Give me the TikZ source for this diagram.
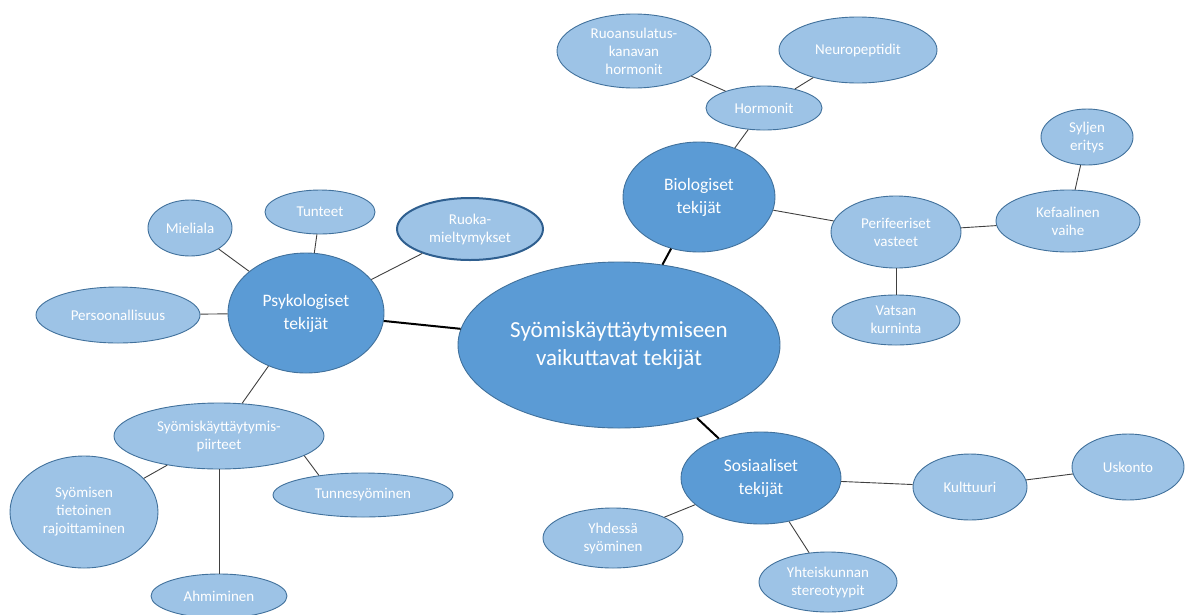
\documentclass[tikz,border=0pt]{standalone}
\usepackage{fontspec}
\setmainfont{Carlito}
\usetikzlibrary{shapes.geometric}
\definecolor{darkfill}{HTML}{5B9BD5}
\definecolor{lightfill}{HTML}{9DC3E6}
\definecolor{edgeblue}{HTML}{41719C}
\definecolor{strongedge}{HTML}{2F5F8F}
\definecolor{thinline}{HTML}{404040}
\tikzset{
  bubble/.style={ellipse, inner sep=0pt, align=center, text=white, draw=edgeblue, line width=0.9pt},
  mainbubble/.style={bubble, fill=darkfill, font=\fontsize{23}{28}\selectfont},
  catbubble/.style={bubble, fill=darkfill, font=\fontsize{17.5}{23}\selectfont},
  leafbubble/.style={bubble, fill=lightfill, font=\fontsize{15}{18}\selectfont},
  sz/.style 2 args={minimum width=#1pt, minimum height=#2pt},
  thinlink/.style={draw=thinline, line width=0.9pt},
  thicklink/.style={draw=black, line width=2pt}
}
\begin{document}
\begin{tikzpicture}[x=1pt,y=-1pt]
\useasboundingbox (0,0) rectangle (1186,614);
% main
\node[mainbubble, sz={322}{166}] (main) at (619,345) {Syömiskäyttäytymiseen\\vaikuttavat tekijät};
% categories
\node[catbubble, sz={156}{120}] (psyk) at (306,313) {Psykologiset\\tekijät};
\node[catbubble, sz={152}{110}] (bio) at (699,197) {Biologiset\\tekijät};
\node[catbubble, sz={160}{92}] (sos) at (761,478) {Sosiaaliset\\tekijät};
% psychological leaves
\node[leafbubble, sz={84}{56}] (mieli) at (190,228) {Mieliala};
\node[leafbubble, sz={110}{44}] (tunteet) at (320,212) {Tunteet};
\node[leafbubble, sz={146}{62}, draw=strongedge, line width=2pt] (ruoka) at (470,229) {Ruoka-\\mieltymykset};
\node[leafbubble, sz={164}{56}] (pers) at (118,315) {Persoonallisuus};
\node[leafbubble, sz={210}{66}] (piirt) at (219,436) {Syömiskäyttäytymis-\\piirteet};
\node[leafbubble, sz={148}{112}] (rajoit) at (84,512) {Syömisen\\tietoinen\\rajoittaminen};
\node[leafbubble, sz={180}{44}] (tunnes) at (363,495) {Tunnesyöminen};
\node[leafbubble, sz={136}{44}] (ahmi) at (219,596) {Ahmiminen};
% biological leaves
\node[leafbubble, sz={154}{74}] (ruoans) at (634,51) {Ruoansulatus-\\kanavan\\hormonit};
\node[leafbubble, sz={158}{66}] (neuro) at (858,50) {Neuropeptidit};
\node[leafbubble, sz={116}{44}] (horm) at (764,108) {Hormonit};
\node[leafbubble, sz={130}{72}] (perif) at (896,232) {Perifeeriset\\vasteet};
\node[leafbubble, sz={144}{62}] (kefa) at (1068,221) {Kefaalinen\\vaihe};
\node[leafbubble, sz={92}{56}] (sylj) at (1087,137) {Syljen\\eritys};
\node[leafbubble, sz={128}{50}] (vatsa) at (896,320) {Vatsan\\kurninta};
% social leaves
\node[leafbubble, sz={114}{66}] (kult) at (970,487) {Kulttuuri};
\node[leafbubble, sz={112}{66}] (usk) at (1128,467) {Uskonto};
\node[leafbubble, sz={140}{60}] (yhdes) at (613,538) {Yhdessä\\syöminen};
\node[leafbubble, sz={138}{60}] (yhteis) at (828,582) {Yhteiskunnan\\stereotyypit};
% connectors
\draw[thicklink] (main) -- (psyk);
\draw[thicklink] (main) -- (bio);
\draw[thicklink] (main) -- (sos);
\draw[thinlink] (psyk) -- (mieli);
\draw[thinlink] (psyk) -- (tunteet);
\draw[thinlink] (psyk) -- (ruoka);
\draw[thinlink] (psyk) -- (pers);
\draw[thinlink] (psyk) -- (piirt);
\draw[thinlink] (piirt) -- (rajoit);
\draw[thinlink] (piirt.-13) -- (tunnes.156);
\draw[thinlink] (piirt) -- (ahmi);
\draw[thinlink] (bio) -- (horm);
\draw[thinlink] (horm) -- (ruoans);
\draw[thinlink] (horm) -- (neuro);
\draw[thinlink] (bio) -- (perif);
\draw[thinlink] (perif) -- (kefa);
\draw[thinlink] (kefa) -- (sylj);
\draw[thinlink] (perif) -- (vatsa);
\draw[thinlink] (sos) -- (kult);
\draw[thinlink] (kult) -- (usk);
\draw[thinlink] (sos) -- (yhdes);
\draw[thinlink] (sos) -- (yhteis);
\end{tikzpicture}
\end{document}
